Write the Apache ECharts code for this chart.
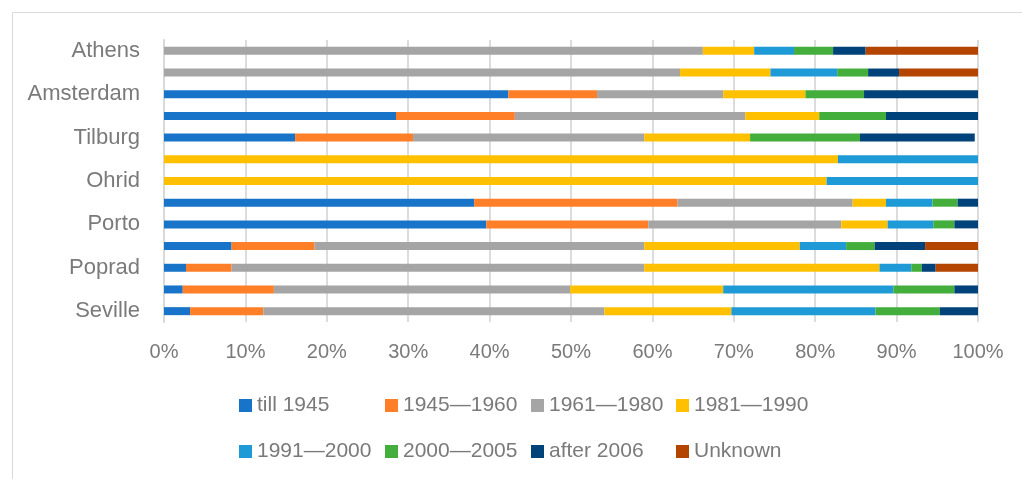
<!DOCTYPE html>
<html lang="en">
<head>
    <meta charset="UTF-8">
    <title>Buildings by construction period</title>
    <script src="https://cdn.jsdelivr.net/npm/echarts@6/dist/echarts.min.js"></script>
</head>
<body style="margin:0;background:#fff;">
<div id="chart" style="width: 1022px;height:479px;"></div>
<script>
    // cities (every other label is hidden in the original)
    var cities = ['Athens', '', 'Amsterdam', '', 'Tilburg', '', 'Ohrid', '', 'Porto', '', 'Poprad', '', 'Seville'];
    var periods = ['till 1945', '1945—1960', '1961—1980', '1981—1990', '1991—2000', '2000—2005', 'after 2006', 'Unknown'];
    var colors = ['#1874c8', '#fe7f27', '#a5a5a5', '#ffc000', '#1e9bd7', '#43ae3c', '#00427a', '#b44500'];
    var xTicks = [0, 10, 20, 30, 40, 50, 60, 70, 80, 90, 100];

    // share of buildings, %
    var till1945  = [0, 0, 42.3, 28.5, 16.1, 0, 0, 38.1, 39.6, 8.3, 2.7, 2.3, 3.2];
    var y1945_60  = [0, 0, 10.9, 14.6, 14.5, 0, 0, 25.0, 19.9, 10.2, 5.6, 11.2, 9.0];
    var y1961_80  = [66.2, 63.4, 15.5, 28.3, 28.4, 0, 0, 21.5, 23.7, 40.5, 50.7, 36.4, 41.9];
    var y1981_90  = [6.3, 11.1, 10.1, 9.1, 13.0, 82.8, 81.4, 4.1, 5.7, 19.1, 28.9, 18.8, 15.6];
    var y1991_00  = [4.9, 8.2, 0, 0, 0, 17.2, 18.6, 5.7, 5.6, 5.7, 3.9, 20.9, 17.7];
    var y2000_05  = [4.8, 3.8, 7.2, 8.2, 13.5, 0, 0, 3.1, 2.6, 3.5, 1.3, 7.5, 7.9];
    var after2006 = [4.0, 3.8, 14.0, 11.3, 14.1, 0, 0, 2.5, 2.9, 6.2, 1.7, 2.9, 4.7];
    var unknown   = [13.8, 9.7, 0, 0, 0, 0, 0, 0, 0, 6.5, 5.2, 0, 0];

    var values = [till1945, y1945_60, y1961_80, y1981_90, y1991_00, y2000_05, after2006, unknown];

    var font = '"Liberation Sans", Arial, sans-serif';
    var gray = '#7a7a7a';

    // one legend per item so the columns line up like the original
    var legendLeft = [239, 385, 531, 676];
    var legendTop = [395, 441];
    var legends = periods.map(function (p, i) {
        return {
            data: [p],
            left: legendLeft[i % 4],
            top: legendTop[Math.floor(i / 4)],
            padding: 0,
            itemWidth: 13,
            itemHeight: 13,
            icon: 'rect',
            textStyle: { fontFamily: font, fontSize: 21, color: gray }
        };
    });

    var series = periods.map(function (p, i) {
        return {
            name: p,
            type: 'bar',
            stack: 'total',
            barWidth: 8,
            itemStyle: { color: colors[i] },
            data: values[i]
        };
    });

    var myChart = echarts.init(document.getElementById('chart'));
    myChart.setOption({
        animation: false,
        color: colors,
        graphic: [{
            type: 'rect',
            left: 10,
            top: 10,
            shape: { width: 1100, height: 600 },
            style: { fill: 'none', stroke: '#d9d9d9', lineWidth: 1 },
            silent: true
        }],
        legend: legends,
        grid: { left: 164, right: 44, top: 40, bottom: 157 },
        xAxis: {
            type: 'value',
            min: xTicks[0],
            max: xTicks[xTicks.length - 1],
            interval: 10,
            axisLine: { show: false },
            axisTick: { show: false },
            splitLine: { lineStyle: { color: '#dcdcdc', width: 2 } },
            axisLabel: {
                formatter: '{value}%',
                margin: 20,
                fontFamily: font,
                fontSize: 20,
                color: gray
            }
        },
        yAxis: {
            type: 'category',
            inverse: true,
            data: cities,
            axisLine: { lineStyle: { color: '#d9d9d9', width: 2 } },
            axisTick: { show: false },
            axisLabel: {
                interval: 0,
                margin: 24,
                fontFamily: font,
                fontSize: 22,
                color: gray
            }
        },
        series: series
    });
</script>
</body>
</html>
